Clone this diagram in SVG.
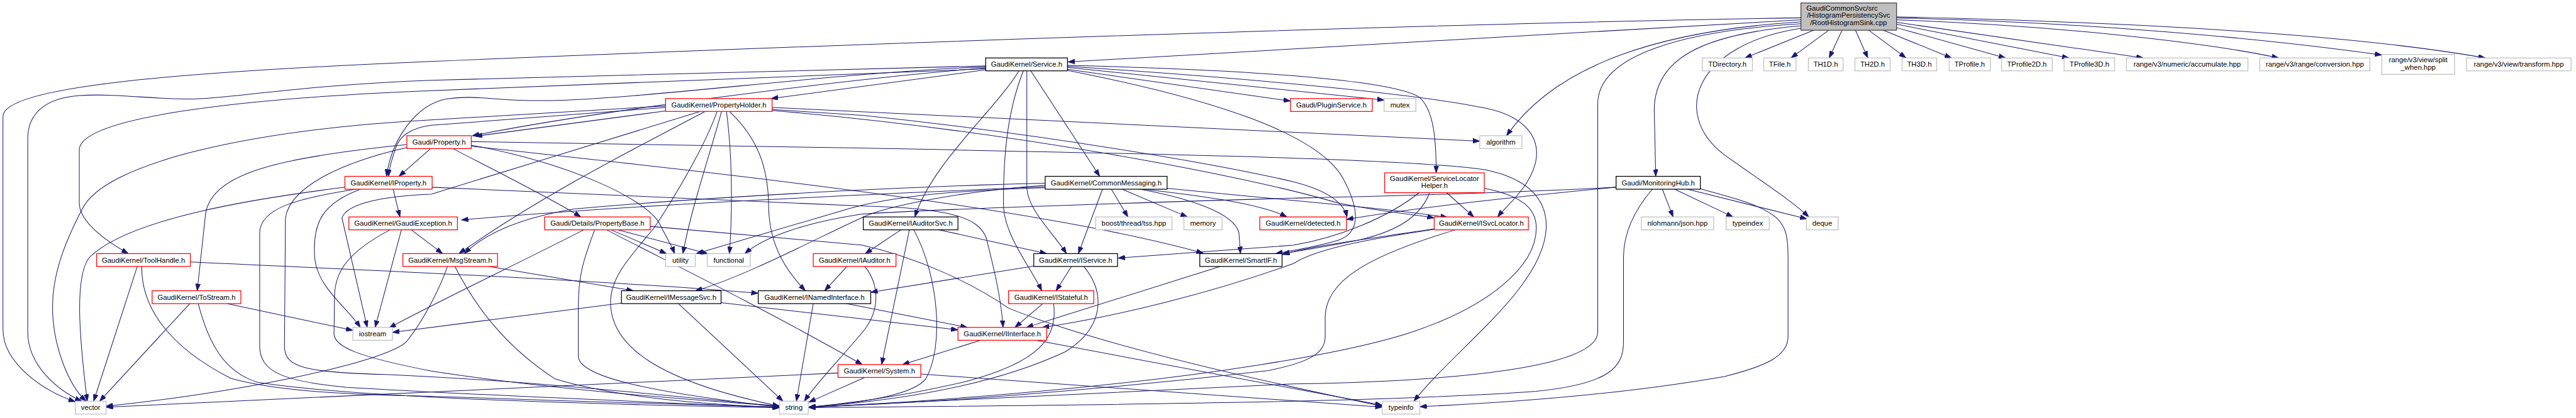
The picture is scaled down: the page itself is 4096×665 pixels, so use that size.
<svg xmlns="http://www.w3.org/2000/svg" width="4096" height="665" viewBox="0 0 4096 665">
<defs>
<marker id="arr" markerUnits="userSpaceOnUse" markerWidth="14" markerHeight="10" refX="14" refY="5" orient="auto"><path d="M0,0 L14,5 L0,10 z" fill="#191970" stroke="#191970" stroke-width="1"/></marker>
<style>
.e path{fill:none;stroke:#191970;stroke-width:1.3;marker-end:url(#arr)}
.n rect{fill:#ffffff;stroke-width:1.6}
.r rect{stroke:#ff0000}
.k rect{stroke:#000000}
.g rect{stroke:#bfbfbf}
.m rect{fill:#bfbfbf;stroke:#404040}
text{font-family:"Liberation Sans",Arial,sans-serif;font-size:14.4px;fill:#000000;text-anchor:middle}
</style>
</defs>
<rect width="4096" height="665" fill="#ffffff"/>
<g transform="scale(0.788)">
<g id="connectors" class="e">
<path d="M3634,36 C3000,45 1800,85 870,124 C350,146 6,175 6,235 L6,665 C6,735 90,790 152,811"/>
<path d="M3634,40 L2155,125"/>
<path d="M3634,44 C3350,62 3140,130 3040,274"/>
<path d="M3634,48 C3400,62 3224,110 3224,210 L3224,670 C3224,740 2950,770 2610,775 L1632,822"/>
<path d="M3634,52 C3430,70 3340,120 3338,220 L3341,356"/>
<path d="M3634,57 C3420,90 3370,230 3480,313 C3560,370 3615,405 3650,438"/>
<path d="M3660,61 L3521,117"/>
<path d="M3690,61 L3614,117"/>
<path d="M3717,61 L3691,117"/>
<path d="M3744,61 L3769,117"/>
<path d="M3771,61 L3846,117"/>
<path d="M3800,61 L3938,117"/>
<path d="M3827,56 L4047,117"/>
<path d="M3827,49 L4175,117"/>
<path d="M3827,45 L4325,117"/>
<path d="M3827,40 C4150,52 4450,85 4598,117"/>
<path d="M3827,36 C4200,45 4550,75 4806,111"/>
<path d="M3827,34 C4300,45 4750,70 5015,117"/>
<path d="M1989,141 L1556,199"/>
<path d="M1989,137 C1700,160 1200,225 953,274"/>
<path d="M1989,135 C1700,145 1300,200 1110,203 C1000,205 960,190 900,200 C840,212 790,280 780,356"/>
<path d="M1989,133 L870,162 C600,172 460,200 385,200 C300,200 230,188 161,193 C90,198 56,230 56,280 L56,670 C56,740 120,790 165,810"/>
<path d="M1989,139 L870,183 C450,200 170,240 160,300 L160,410 C160,450 220,490 259,512"/>
<path d="M2056,143 C2010,220 1880,330 1846,438"/>
<path d="M2065,143 C2030,230 2024,330 2025,420 C2030,480 2080,540 2102,587"/>
<path d="M2072,143 L2072,380 C2075,425 2125,470 2152,512"/>
<path d="M2080,143 L2219,356"/>
<path d="M2154,132 C2500,140 2800,160 2862,195 C2895,220 2898,290 2898,349"/>
<path d="M2154,134 C2550,160 2850,190 2980,215 C3080,230 3110,280 3098,330 C3085,380 3040,415 3022,438"/>
<path d="M2154,136 L2793,202"/>
<path d="M2154,140 L2604,204"/>
<path d="M2154,142 C2450,200 2660,270 2710,360 C2745,425 2745,470 2700,485 C2650,500 2610,505 2574,512"/>
<path d="M1343,224 L959,275"/>
<path d="M1558,217 L2986,285"/>
<path d="M1343,214 L870,242 C500,262 210,330 166,422 C125,500 106,560 106,620 C106,700 140,780 174,810"/>
<path d="M1343,217 L870,253 C830,258 805,275 798,300 C790,325 785,340 784,356"/>
<path d="M1413,225 L870,392 C780,395 700,410 690,440 L741,661"/>
<path d="M1423,225 C1300,290 1100,390 926,512"/>
<path d="M1447,225 C1420,300 1360,400 1320,460 C1270,520 1232,560 1232,610 C1232,700 1330,770 1573,820"/>
<path d="M1456,225 C1430,320 1395,420 1378,512"/>
<path d="M1466,225 C1478,320 1478,420 1472,512"/>
<path d="M1472,225 C1530,280 1551,340 1551,420 C1553,500 1590,550 1625,587"/>
<path d="M1558,221 L1740,233 C2100,270 2450,330 2610,367 C2680,385 2712,410 2718,438"/>
<path d="M1558,223 C2000,260 2500,350 2700,410 C2800,430 2850,432 2894,440"/>
<path d="M870,299 L805,356"/>
<path d="M821,292 C560,318 430,350 415,430 L398,587"/>
<path d="M821,298 C680,330 585,380 576,440 L574,700 C575,740 610,752 777,756 C1100,770 1400,805 1573,820"/>
<path d="M912,299 C1000,345 1120,405 1172,438"/>
<path d="M951,293 C1150,330 1300,400 1330,450 C1345,480 1355,495 1361,512"/>
<path d="M951,286 L1740,299 C2300,310 2850,320 2998,343 C3080,360 3122,400 3120,460 C3115,580 2940,700 2853,810"/>
<path d="M951,295 C1500,355 2100,420 2428,511"/>
<path d="M696,378 C520,400 260,440 180,520 C150,560 160,680 176,810"/>
<path d="M730,381 C650,410 630,450 635,520 C640,580 700,620 727,661"/>
<path d="M793,381 L807,438"/>
<path d="M872,378 L1740,416 C1920,420 1975,440 1990,480 C2005,540 2020,600 2024,661"/>
<path d="M724,381 C600,400 525,420 524,470 L524,700 C525,750 570,770 700,782 C1000,800 1400,815 1573,823"/>
<path d="M810,464 L757,661"/>
<path d="M787,464 C700,510 675,550 675,600 L674,675 C676,700 720,720 870,749 C1100,785 1400,808 1573,820"/>
<path d="M830,464 L893,512"/>
<path d="M1178,464 C1050,530 900,600 785,662"/>
<path d="M1200,464 C1175,530 1167,560 1167,620 L1167,720 C1170,760 1300,790 1573,822"/>
<path d="M1224,464 C1330,520 1500,600 1740,736"/>
<path d="M1233,464 L1345,512"/>
<path d="M1247,464 L1428,512"/>
<path d="M1312,457 L1740,495 C1850,520 1960,570 2035,622 C2200,690 2500,760 2789,820"/>
<path d="M1818,464 L1746,512"/>
<path d="M1835,464 L1779,736"/>
<path d="M1844,464 C1895,560 1905,700 1868,765 C1840,800 1720,815 1632,822"/>
<path d="M1895,464 L2112,512"/>
<path d="M277,538 L189,810"/>
<path d="M286,538 C285,620 340,700 466,764 C560,790 700,797 870,800 C1100,808 1400,818 1573,822"/>
<path d="M384,529 C800,548 1200,565 1530,592"/>
<path d="M383,613 L201,810"/>
<path d="M458,613 L712,667"/>
<path d="M400,613 C420,690 450,750 520,772 C700,800 1100,815 1573,823"/>
<path d="M987,538 L1278,587"/>
<path d="M918,538 C960,620 1020,700 1120,765 C1250,805 1450,818 1573,822"/>
<path d="M903,538 C890,575 860,640 820,690 C780,730 500,790 214,820"/>
<path d="M1254,612 L792,671"/>
<path d="M1369,613 L1580,810"/>
<path d="M1455,611 L1933,666"/>
<path d="M1641,613 L1607,810"/>
<path d="M1708,613 L1952,661"/>
<path d="M1709,538 L1664,587"/>
<path d="M1745,538 C1775,575 1775,625 1745,665 C1700,720 1650,770 1623,810"/>
<path d="M2086,537 L1757,590"/>
<path d="M2162,538 L2131,587"/>
<path d="M2187,538 C2230,590 2230,660 2150,710 C2000,780 1800,810 1632,822"/>
<path d="M2104,613 L2048,661"/>
<path d="M2126,613 C2135,680 2100,730 1950,770 C1800,805 1700,815 1632,822"/>
<path d="M2462,538 L2071,661"/>
<path d="M2894,462 C2780,480 2650,495 2588,514"/>
<path d="M2895,463 C2780,480 2660,500 2610,532 C2450,590 2250,640 2103,661"/>
<path d="M2937,464 C2750,520 2675,570 2674,640 L2674,680 C2674,710 2650,730 2560,748 C2200,790 1850,815 1632,822"/>
<path d="M2918,388 L2974,438"/>
<path d="M2865,388 C2800,440 2700,480 2610,495 L2256,521"/>
<path d="M2885,388 C2870,430 2830,465 2740,485 C2680,497 2630,505 2588,512"/>
<path d="M2995,380 C3070,395 3100,420 3100,460 C3100,540 3000,620 2850,670 C2700,720 2400,760 2200,780 C2000,800 1800,815 1632,822"/>
<path d="M2109,370 C1800,377 1400,400 1158,422 C1050,440 980,470 937,512"/>
<path d="M2109,374 C1950,385 1790,415 1740,439 C1650,480 1500,560 1403,587"/>
<path d="M2109,377 C1700,395 1300,412 931,444"/>
<path d="M2109,379 C1900,385 1780,400 1700,425 L1405,512"/>
<path d="M2225,381 L2176,512"/>
<path d="M2242,381 L2276,438"/>
<path d="M2262,381 L2396,438"/>
<path d="M2295,381 C2400,400 2490,430 2500,470 L2503,512"/>
<path d="M2300,381 C2420,395 2540,410 2597,438"/>
<path d="M2355,380 C2600,405 2800,420 2921,439"/>
<path d="M3261,378 C3050,398 2850,420 2717,443"/>
<path d="M3261,378 C3000,392 2700,398 2610,400 C2200,412 1850,425 1740,432 C1620,450 1540,480 1503,512"/>
<path d="M3354,381 L3376,438"/>
<path d="M3377,381 L3497,438"/>
<path d="M3401,381 C3480,400 3560,420 3646,442"/>
<path d="M3412,376 C3480,395 3550,410 3585,440 C3605,460 3608,480 3608,520 L3608,680 C3608,720 3560,740 3480,760 C3250,800 3000,815 2865,821"/>
<path d="M3335,381 C3310,410 3276,460 3276,520 L3276,690 C3276,740 3250,775 3100,790 C2800,812 2200,818 1632,823"/>
<path d="M1858,755 L2789,822"/>
<path d="M1745,762 L1632,812"/>
<path d="M1691,753 C1300,770 800,795 214,822"/>
<path d="M1979,687 L1821,736"/>
<path d="M2090,687 L2789,818"/>
</g>
<g id="node-main" class="n m"><rect x="3634" y="6" width="193" height="55"/><text x="3645" y="21.5" style="text-anchor:start">GaudiCommonSvc/src</text><text x="3730" y="36">/HistogramPersistencySvc</text><text x="3730" y="50.5">/RootHistogramSink.cpp</text></g>
<g id="node-tdirectory" class="n g"><rect x="3435" y="117" width="101" height="26"/><text x="3485.5" y="135">TDirectory.h</text></g>
<g id="node-tfile" class="n g"><rect x="3559" y="117" width="65" height="26"/><text x="3591.5" y="135">TFile.h</text></g>
<g id="node-th1d" class="n g"><rect x="3649" y="117" width="70" height="26"/><text x="3684" y="135">TH1D.h</text></g>
<g id="node-th2d" class="n g"><rect x="3743" y="117" width="71" height="26"/><text x="3778.5" y="135">TH2D.h</text></g>
<g id="node-th3d" class="n g"><rect x="3838" y="117" width="70" height="26"/><text x="3873" y="135">TH3D.h</text></g>
<g id="node-tprofile" class="n g"><rect x="3933" y="117" width="83" height="26"/><text x="3974.5" y="135">TProfile.h</text></g>
<g id="node-tprofile2d" class="n g"><rect x="4039" y="117" width="102" height="26"/><text x="4090" y="135">TProfile2D.h</text></g>
<g id="node-tprofile3d" class="n g"><rect x="4165" y="117" width="102" height="26"/><text x="4216" y="135">TProfile3D.h</text></g>
<g id="node-accumulate" class="n g"><rect x="4291" y="117" width="245" height="26"/><text x="4413.5" y="135">range/v3/numeric/accumulate.hpp</text></g>
<g id="node-conversion" class="n g"><rect x="4560" y="117" width="222" height="26"/><text x="4671" y="135">range/v3/range/conversion.hpp</text></g>
<g id="node-splitwhen" class="n g"><rect x="4806" y="110" width="147" height="40"/><text x="4879.5" y="126">range/v3/view/split</text><text x="4879.5" y="140.5">_when.hpp</text></g>
<g id="node-transform" class="n g"><rect x="4977" y="117" width="211" height="26"/><text x="5082.5" y="135">range/v3/view/transform.hpp</text></g>
<g id="node-service" class="n k"><rect x="1989" y="117" width="165" height="26"/><text x="2071.5" y="135">GaudiKernel/Service.h</text></g>
<g id="node-propertyholder" class="n r"><rect x="1343" y="199" width="215" height="26"/><text x="1450.5" y="217">GaudiKernel/PropertyHolder.h</text></g>
<g id="node-pluginservice" class="n r"><rect x="2604" y="199" width="165" height="26"/><text x="2686.5" y="217">Gaudi/PluginService.h</text></g>
<g id="node-mutex" class="n g"><rect x="2793" y="199" width="64" height="26"/><text x="2825" y="217">mutex</text></g>
<g id="node-property" class="n r"><rect x="821" y="274" width="130" height="26"/><text x="886" y="292">Gaudi/Property.h</text></g>
<g id="node-algorithm" class="n g"><rect x="2986" y="274" width="85" height="26"/><text x="3028.5" y="292">algorithm</text></g>
<g id="node-iproperty" class="n r"><rect x="696" y="356" width="176" height="26"/><text x="784" y="374">GaudiKernel/IProperty.h</text></g>
<g id="node-commonmessaging" class="n k"><rect x="2109" y="356" width="246" height="26"/><text x="2232" y="374">GaudiKernel/CommonMessaging.h</text></g>
<g id="node-servicelocatorhelper" class="n r"><rect x="2794" y="349" width="201" height="40"/><text x="2894.5" y="365">GaudiKernel/ServiceLocator</text><text x="2894.5" y="379.5">Helper.h</text></g>
<g id="node-monitoringhub" class="n k"><rect x="3261" y="356" width="170" height="26"/><text x="3346" y="374">Gaudi/MonitoringHub.h</text></g>
<g id="node-gaudiexception" class="n r"><rect x="704" y="438" width="219" height="26"/><text x="813.5" y="456">GaudiKernel/GaudiException.h</text></g>
<g id="node-propertybase" class="n r"><rect x="1099" y="438" width="213" height="26"/><text x="1205.5" y="456">Gaudi/Details/PropertyBase.h</text></g>
<g id="node-iauditorsvc" class="n k"><rect x="1742" y="438" width="191" height="26"/><text x="1837.5" y="456">GaudiKernel/IAuditorSvc.h</text></g>
<g id="node-tss" class="n g"><rect x="2211" y="438" width="154" height="26"/><text x="2288" y="456">boost/thread/tss.hpp</text></g>
<g id="node-memory" class="n g"><rect x="2389" y="438" width="77" height="26"/><text x="2427.5" y="456">memory</text></g>
<g id="node-detected" class="n r"><rect x="2542" y="438" width="175" height="26"/><text x="2629.5" y="456">GaudiKernel/detected.h</text></g>
<g id="node-isvclocator" class="n r"><rect x="2894" y="438" width="190" height="26"/><text x="2989" y="456">GaudiKernel/ISvcLocator.h</text></g>
<g id="node-json" class="n g"><rect x="3312" y="438" width="146" height="26"/><text x="3385" y="456">nlohmann/json.hpp</text></g>
<g id="node-typeindex" class="n g"><rect x="3483" y="438" width="87" height="26"/><text x="3526.5" y="456">typeindex</text></g>
<g id="node-deque" class="n g"><rect x="3645" y="438" width="64" height="26"/><text x="3677" y="456">deque</text></g>
<g id="node-toolhandle" class="n r"><rect x="195" y="512" width="189" height="26"/><text x="289.5" y="530">GaudiKernel/ToolHandle.h</text></g>
<g id="node-msgstream" class="n r"><rect x="813" y="512" width="191" height="26"/><text x="908.5" y="530">GaudiKernel/MsgStream.h</text></g>
<g id="node-utility" class="n g"><rect x="1343" y="512" width="60" height="26"/><text x="1373" y="530">utility</text></g>
<g id="node-functional" class="n g"><rect x="1427" y="512" width="87" height="26"/><text x="1470.5" y="530">functional</text></g>
<g id="node-iauditor" class="n r"><rect x="1641" y="512" width="167" height="26"/><text x="1724.5" y="530">GaudiKernel/IAuditor.h</text></g>
<g id="node-iservice" class="n k"><rect x="2086" y="512" width="169" height="26"/><text x="2170.5" y="530">GaudiKernel/IService.h</text></g>
<g id="node-smartif" class="n k"><rect x="2421" y="512" width="166" height="26"/><text x="2504" y="530">GaudiKernel/SmartIF.h</text></g>
<g id="node-tostream" class="n r"><rect x="307" y="587" width="179" height="26"/><text x="396.5" y="605">GaudiKernel/ToStream.h</text></g>
<g id="node-imessagesvc" class="n k"><rect x="1254" y="587" width="201" height="26"/><text x="1354.5" y="605">GaudiKernel/IMessageSvc.h</text></g>
<g id="node-inamedinterface" class="n k"><rect x="1530" y="587" width="227" height="26"/><text x="1643.5" y="605">GaudiKernel/INamedInterface.h</text></g>
<g id="node-istateful" class="n r"><rect x="2035" y="587" width="172" height="26"/><text x="2121" y="605">GaudiKernel/IStateful.h</text></g>
<g id="node-iostream" class="n g"><rect x="712" y="661" width="80" height="26"/><text x="752" y="679">iostream</text></g>
<g id="node-iinterface" class="n r"><rect x="1933" y="661" width="179" height="26"/><text x="2022.5" y="679">GaudiKernel/IInterface.h</text></g>
<g id="node-system" class="n r"><rect x="1691" y="736" width="167" height="26"/><text x="1774.5" y="754">GaudiKernel/System.h</text></g>
<g id="node-vector" class="n g"><rect x="152" y="810" width="62" height="26"/><text x="183" y="828">vector</text></g>
<g id="node-string" class="n g"><rect x="1573" y="810" width="58" height="26"/><text x="1602" y="828">string</text></g>
<g id="node-typeinfo" class="n g"><rect x="2789" y="810" width="76" height="26"/><text x="2827" y="828">typeinfo</text></g>
</g>
</svg>
